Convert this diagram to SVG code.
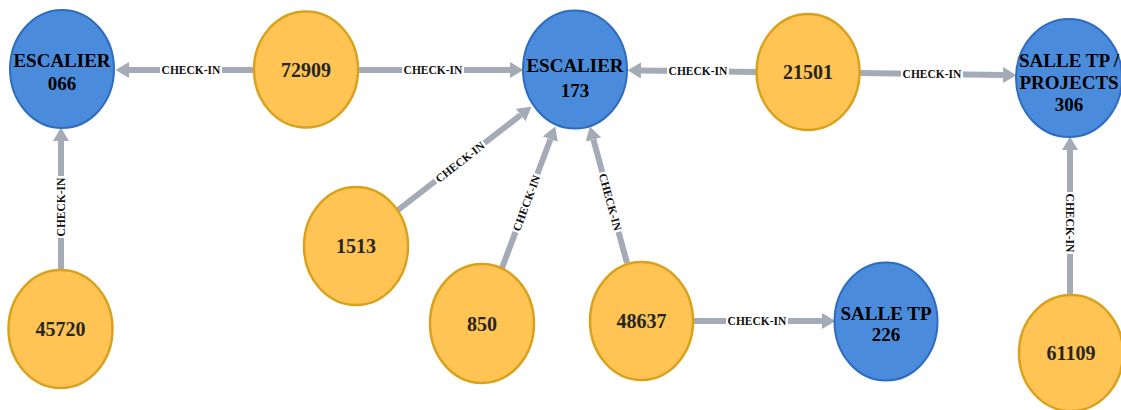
<svg xmlns="http://www.w3.org/2000/svg" width="1121" height="410" viewBox="0 0 1121 410">
<style>
.loc ellipse{fill:#4A8BDB;stroke:#2D6CC0;stroke-width:2}
.per ellipse{fill:#FFC454;stroke:#D9A11C;stroke-width:2.5}
.loc text{font-family:"Liberation Serif",serif;font-weight:bold;font-size:19px;fill:#000;text-anchor:middle}
.per text{font-family:"Liberation Serif",serif;font-weight:bold;font-size:20px;fill:#262626;text-anchor:middle}
.edge line{stroke:#A5ABB6;stroke-width:6;marker-end:url(#arr)}
.lbl rect{fill:#fff}
.lbl text{font-family:"Liberation Serif",serif;font-weight:bold;font-size:11.5px;fill:#111;text-anchor:middle;dominant-baseline:central}
</style>
<defs>
<marker id="arr" markerUnits="userSpaceOnUse" markerWidth="14" markerHeight="16" refX="0" refY="8" orient="auto" viewBox="0 0 14 16">
<path d="M0,0 L13.5,8 L0,16 z" fill="#A5ABB6"/>
</marker>
</defs>
<g id="connectors">
<g class="edge">
<line x1="254" y1="70" x2="129" y2="70"/>
<line x1="358" y1="70" x2="510" y2="70"/>
<line x1="757" y1="72" x2="641" y2="70.5"/>
<line x1="860" y1="73" x2="1003" y2="75"/>
<line x1="398" y1="210" x2="520.7" y2="115"/>
<line x1="502" y1="268" x2="550.4" y2="139.2"/>
<line x1="627" y1="263" x2="593.4" y2="139.5"/>
<line x1="693" y1="321" x2="822" y2="321"/>
<line x1="61" y1="270" x2="61" y2="141"/>
<line x1="1070" y1="295" x2="1070" y2="150"/>
</g>
<g class="lbl">
<g transform="translate(191,70)"><rect x="-31" y="-4.5" width="62" height="9"/><text>CHECK-IN</text></g>
<g transform="translate(433,70)"><rect x="-31" y="-4.5" width="62" height="9"/><text>CHECK-IN</text></g>
<g transform="translate(698,71)"><rect x="-31" y="-4.5" width="62" height="9"/><text>CHECK-IN</text></g>
<g transform="translate(932,74)"><rect x="-31" y="-4.5" width="62" height="9"/><text>CHECK-IN</text></g>
<g transform="translate(460,162) rotate(-37.8)"><rect x="-31" y="-4.5" width="62" height="9"/><text>CHECK-IN</text></g>
<g transform="translate(526.4,203) rotate(-69.4)"><rect x="-31" y="-4.5" width="62" height="9"/><text>CHECK-IN</text></g>
<g transform="translate(610.4,202) rotate(74.8)"><rect x="-31" y="-4.5" width="62" height="9"/><text>CHECK-IN</text></g>
<g transform="translate(757,321)"><rect x="-31" y="-4.5" width="62" height="9"/><text>CHECK-IN</text></g>
<g transform="translate(61,207) rotate(-90)"><rect x="-31" y="-4.5" width="62" height="9"/><text>CHECK-IN</text></g>
<g transform="translate(1070,223) rotate(90)"><rect x="-31" y="-4.5" width="62" height="9"/><text>CHECK-IN</text></g>
</g>
</g>
<g id="escalier-066" class="loc"><ellipse cx="62" cy="69" rx="52" ry="59"/><text x="62" y="67">ESCALIER</text><text x="62" y="90">066</text></g>
<g id="escalier-173" class="loc"><ellipse cx="575" cy="69.5" rx="52" ry="59"/><text x="575" y="72">ESCALIER</text><text x="575" y="97">173</text></g>
<g id="salle-tp-306" class="loc"><ellipse cx="1069" cy="78" rx="53" ry="59"/><text x="1069" y="67">SALLE TP /</text><text x="1069" y="89">PROJECTS</text><text x="1069" y="111">306</text></g>
<g id="salle-tp-226" class="loc"><ellipse cx="886" cy="321.5" rx="51.5" ry="59"/><text x="886" y="320">SALLE TP</text><text x="886" y="341">226</text></g>
<g id="n72909" class="per"><ellipse cx="306" cy="69.5" rx="52" ry="58"/><text x="306" y="77">72909</text></g>
<g id="n21501" class="per"><ellipse cx="808" cy="72" rx="51.5" ry="58"/><text x="808" y="79">21501</text></g>
<g id="n1513" class="per"><ellipse cx="356" cy="246" rx="52" ry="59"/><text x="356" y="253">1513</text></g>
<g id="n850" class="per"><ellipse cx="482" cy="323.5" rx="52" ry="59.5"/><text x="482" y="331">850</text></g>
<g id="n48637" class="per"><ellipse cx="641.5" cy="321" rx="51.5" ry="59"/><text x="641.5" y="328">48637</text></g>
<g id="n45720" class="per"><ellipse cx="60.5" cy="329" rx="52" ry="59"/><text x="60.5" y="336">45720</text></g>
<g id="n61109" class="per"><ellipse cx="1071" cy="353" rx="52" ry="58"/><text x="1071" y="360">61109</text></g>
</svg>
